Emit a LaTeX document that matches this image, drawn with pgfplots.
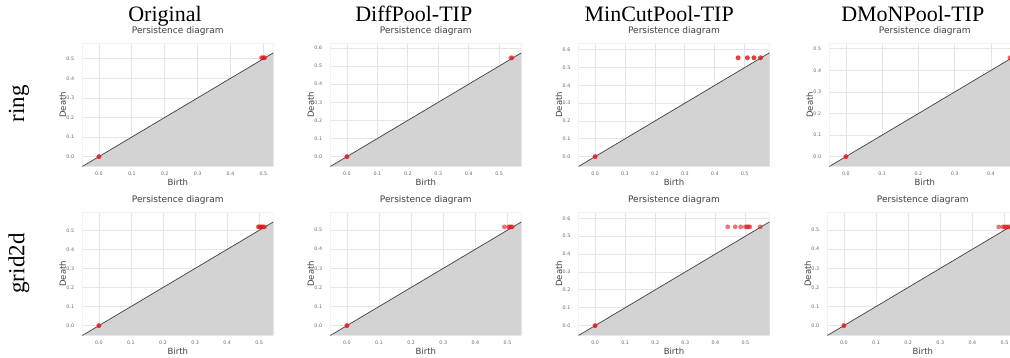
\documentclass[border=0pt]{standalone}
\usepackage{pgfplots}
\pgfplotsset{compat=1.18}
\usepackage{fontspec}
\setmainfont{Liberation Serif}
\newfontfamily\dejavu{DejaVu Sans}
\definecolor{pdred}{HTML}{E8141C}
\definecolor{pdfill}{HTML}{D3D3D3}
\pgfplotsset{
  pd/.style={
    scale only axis, width=191pt, height=123.5pt, anchor=south west,
    xtick={0,0.1,0.2,0.3,0.4,0.5,0.6}, ytick={0,0.1,0.2,0.3,0.4,0.5,0.6},
    major tick length=0pt,
    grid=major, major grid style={black!10, line width=0.7pt},
    axis line style={black!5},
    /pgf/number format/assume math mode=true,
    tick label style={font=\dejavu\fontsize{4.8}{5}\selectfont, text=black!60, inner sep=0pt,
      /pgf/number format/fixed, /pgf/number format/fixed zerofill, /pgf/number format/precision=1},
    xticklabel style={anchor=north, yshift=-5.5pt},
    yticklabel style={anchor=east, xshift=-8pt},
    title={Persistence diagram},
    title style={font=\dejavu\fontsize{9}{10}\selectfont, text=black!75, at={(axis description cs:0.5,1)}, anchor=base, yshift=3.6pt},
    xlabel={Birth}, ylabel={Death},
    label style={font=\dejavu\fontsize{8.5}{10}\selectfont, text=black!75},
    xlabel style={at={(axis description cs:0.5,0)}, anchor=base, yshift=-19pt},
    ylabel style={at={(axis description cs:-0.0855,0.5)}, anchor=base},
    clip=true,
  },
  diag/.style={black!75, line width=0.7pt},
  shade/.style={fill=pdfill, draw=none},
  pts/.style={only marks, mark=*, mark size=2.4pt, color=pdred, mark options={fill=pdred, fill opacity=0.6, draw opacity=0}},
}
\begin{document}
\begin{tikzpicture}
\path[use as bounding box] (0,0) rectangle (1010pt,358pt);
% column titles
\node[font=\fontsize{22}{26}\selectfont, anchor=base] at (165pt,336.3pt) {Original};
\node[font=\fontsize{22}{26}\selectfont, anchor=base] at (413.8pt,336.3pt) {DiffPool-TIP};
\node[font=\fontsize{22}{26}\selectfont, anchor=base] at (659.2pt,336.3pt) {MinCutPool-TIP};
\node[font=\fontsize{22}{26}\selectfont, anchor=base] at (912.8pt,336.3pt) {DMoNPool-TIP};
% row labels
\node[font=\fontsize{23}{26}\selectfont, rotate=90, anchor=center] at (19pt,254pt) {ring};
\node[font=\fontsize{23}{26}\selectfont, rotate=90, anchor=center] at (19pt,94.5pt) {grid2d};

% Row 1: ring
\begin{axis}[pd, at={(82.3pt,191.5pt)}, xmin=-0.0505, xmax=0.530, ymin=-0.0505, ymax=0.5805]
\addplot[shade] coordinates {(-0.0505,-0.0505) (0.530,0.530) (0.530,-0.0505)} -- cycle;
\addplot[diag] coordinates {(-0.0505,-0.0505) (0.530,0.530)};
\addplot[pts] coordinates {(0,0) (0,0) (0.494,0.505) (0.498,0.505) (0.501,0.505) (0.504,0.505)};
\end{axis}

\begin{axis}[pd, at={(330.3pt,191.5pt)}, xmin=-0.0545, xmax=0.5725, ymin=-0.0545, ymax=0.627]
\addplot[shade] coordinates {(-0.0545,-0.0545) (0.5725,0.5725) (0.5725,-0.0545)} -- cycle;
\addplot[diag] coordinates {(-0.0545,-0.0545) (0.5725,0.5725)};
\addplot[pts] coordinates {(0,0) (0,0) (0.538,0.545) (0.542,0.545)};
\end{axis}

\begin{axis}[pd, at={(578.5pt,191.5pt)}, xmin=-0.0555, xmax=0.583, ymin=-0.0555, ymax=0.638]
\addplot[shade] coordinates {(-0.0555,-0.0555) (0.583,0.583) (0.583,-0.0555)} -- cycle;
\addplot[diag] coordinates {(-0.0555,-0.0555) (0.583,0.583)};
\addplot[pts] coordinates {(0,0) (0,0) (0.478,0.555) (0.478,0.555) (0.509,0.555) (0.509,0.555) (0.531,0.555) (0.531,0.555) (0.553,0.555) (0.553,0.555)};
\end{axis}

\begin{axis}[pd, at={(829.3pt,191.5pt)}, xmin=-0.0458, xmax=0.481, ymin=-0.0458, ymax=0.527]
\addplot[shade] coordinates {(-0.0458,-0.0458) (0.481,0.481) (0.481,-0.0458)} -- cycle;
\addplot[diag] coordinates {(-0.0458,-0.0458) (0.481,0.481)};
\addplot[pts] coordinates {(0,0) (0,0) (0.452,0.458) (0.456,0.458)};
\end{axis}

% Row 2: grid2d
\begin{axis}[pd, at={(82.3pt,22.5pt)}, xmin=-0.0518, xmax=0.544, ymin=-0.0518, ymax=0.596]
\addplot[shade] coordinates {(-0.0518,-0.0518) (0.544,0.544) (0.544,-0.0518)} -- cycle;
\addplot[diag] coordinates {(-0.0518,-0.0518) (0.544,0.544)};
\addplot[pts] coordinates {(0,0) (0,0) (0.497,0.518) (0.500,0.518) (0.503,0.518) (0.507,0.518) (0.510,0.518) (0.513,0.518) (0.517,0.518)};
\end{axis}

\begin{axis}[pd, at={(330.3pt,22.5pt)}, xmin=-0.0517, xmax=0.543, ymin=-0.0517, ymax=0.595]
\addplot[shade] coordinates {(-0.0517,-0.0517) (0.543,0.543) (0.543,-0.0517)} -- cycle;
\addplot[diag] coordinates {(-0.0517,-0.0517) (0.543,0.543)};
\addplot[pts] coordinates {(0,0) (0,0) (0.490,0.517) (0.503,0.517) (0.507,0.517) (0.511,0.517) (0.515,0.517)};
\end{axis}

\begin{axis}[pd, at={(578.5pt,22.5pt)}, xmin=-0.0552, xmax=0.580, ymin=-0.0552, ymax=0.635]
\addplot[shade] coordinates {(-0.0552,-0.0552) (0.580,0.580) (0.580,-0.0552)} -- cycle;
\addplot[diag] coordinates {(-0.0552,-0.0552) (0.580,0.580)};
\addplot[pts] coordinates {(0,0) (0,0) (0.441,0.552) (0.466,0.552) (0.484,0.552) (0.500,0.552) (0.505,0.552) (0.510,0.552) (0.515,0.552) (0.549,0.552)};
\end{axis}

\begin{axis}[pd, at={(827.3pt,22.5pt)}, xmin=-0.0517, xmax=0.543, ymin=-0.0517, ymax=0.595]
\addplot[shade] coordinates {(-0.0517,-0.0517) (0.543,0.543) (0.543,-0.0517)} -- cycle;
\addplot[diag] coordinates {(-0.0517,-0.0517) (0.543,0.543)};
\addplot[pts] coordinates {(0,0) (0,0) (0.482,0.517) (0.495,0.517) (0.500,0.517) (0.505,0.517) (0.510,0.517) (0.515,0.517)};
\end{axis}
\end{tikzpicture}
\end{document}
